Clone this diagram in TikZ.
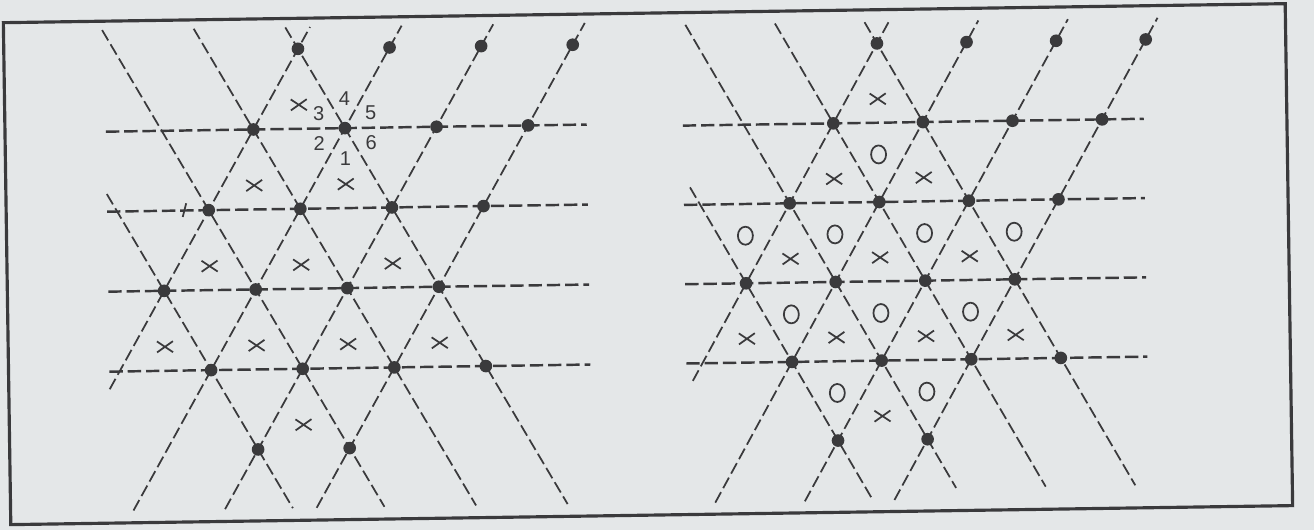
\documentclass[tikz,border=0pt]{standalone}
\usepackage{fontspec}
\setsansfont{Liberation Sans}
\usepackage{tikz}
\definecolor{paper}{RGB}{228,231,232}
\definecolor{ink}{RGB}{58,58,60}
\tikzset{
	hline/.style={ink,line width=0.7pt,dash pattern=on 3.8pt off 1.4pt},
	sline/.style={ink,line width=0.5pt,dash pattern=on 3.4pt off 1.3pt},
	cross/.style={ink,line width=0.5pt},
	ring/.style={ink,line width=0.5pt},
	num/.style={font=\sffamily\fontsize{5.7}{6}\selectfont,text=ink,inner sep=0pt}
}

\begin{document}
\begin{tikzpicture}
	\useasboundingbox (0,0) rectangle (13.14,5.30);
	\fill[paper] (0,0) rectangle (13.14,5.30);
	\begin{scope}[rotate around={0.85:(6.57,2.65)}]
		\draw[ink,line width=0.9pt] (0.07,0.15) rectangle (12.89,5.17);
		\begin{scope}[shift={(3.47,4.065)},x=0.458cm,y=-0.8cm]
			\coordinate (O) at (0,0);
			\foreach \j in {0,...,3}
				\draw[hline] (-5.22,\j)--(5.28,\j);
			\draw[sline] (-2-3.22,3.22)--(-2+1.27,-1.27);
			\foreach \s in {0,2,4}
				\draw[sline] (\s-4.74,4.74)--(\s+1.27,-1.27);
			\draw[sline] (-6+0.78,0.78)--(-6+4.74,4.74);
			\foreach \d in {-4,-2,0}
				\draw[sline] (\d-1.27,-1.27)--(\d+4.74,4.74);
			\draw[ink,line width=0.5pt] (-3.49,0.91)--(-3.57,1.08);
			\foreach \k/\j in {-1/-1,1/-1,3/-1,5/-1,-2/0,0/0,2/0,4/0,-3/1,-1/1,1/1,3/1,-4/2,-2/2,0/2,2/2,-3/3,-1/3,1/3,3/3,-2/4,0/4}
				\fill[ink] (\k,\j) circle(1.8pt);
			\foreach \k/\j in {-1/-1,-2/0,0/0,-3/1,-1/1,1/1,-4/2,-2/2,0/2,2/2,-1/3}
				\draw[cross] (\k,\j+0.7) ++(-0.08cm,-0.055cm)--++(0.16cm,0.11cm) ++(0,-0.11cm)--++(-0.16cm,0.11cm);
			\foreach \a/\l in {270/1,210/2,150/3,90/4,30/5,330/6}
				\path (O) ++(\a:0.3cm) node[num] (n\l) {\l};
		\end{scope}
		\begin{scope}[shift={(9.25,4.04)},x=0.448cm,y=-0.793cm]
			\foreach \j in {0,...,3}
				\draw[hline] (-5.36,\j)--(4.93,\j);
			\draw[sline] (-2-3.22,3.22)--(-2+1.27,-1.27);
			\foreach \s in {0,2,4}
				\draw[sline] (\s-4.76,4.76)--(\s+1.27,-1.27);
			\draw[sline] (-6+0.78,0.78)--(-6+4.76,4.76);
			\foreach \d in {-4,-2,0}
				\draw[sline] (\d-1.27,-1.27)--(\d+4.62,4.62);
			\foreach \k/\j in {-1/-1,1/-1,3/-1,5/-1,-2/0,0/0,2/0,4/0,-3/1,-1/1,1/1,3/1,-4/2,-2/2,0/2,2/2,-3/3,-1/3,1/3,3/3,-2/4,0/4}
				\fill[ink] (\k,\j) circle(1.8pt);
			\foreach \k/\j in {-1/-1,-2/0,0/0,-3/1,-1/1,1/1,-4/2,-2/2,0/2,2/2,-1/3}
				\draw[cross] (\k,\j+0.7) ++(-0.08cm,-0.055cm)--++(0.16cm,0.11cm) ++(0,-0.11cm)--++(-0.16cm,0.11cm);
			\foreach \k/\j in {-1/1,-4/2,-2/2,0/2,2/2,-3/3,-1/3,1/3,-2/4,0/4}
				\draw[ring] (\k,\j-0.6) ellipse[x radius=0.075cm,y radius=0.09cm];
		\end{scope}
	\end{scope}
\end{tikzpicture}
\end{document}
